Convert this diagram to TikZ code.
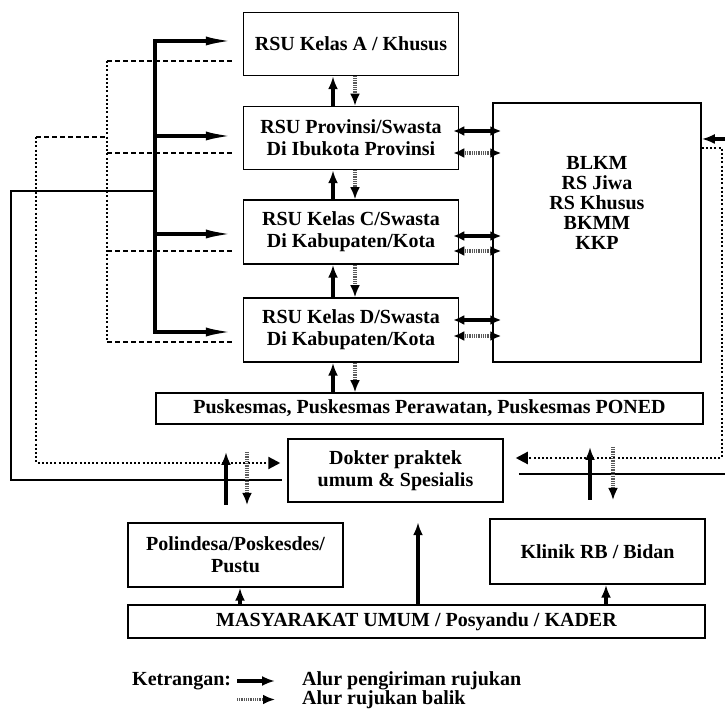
\documentclass[tikz,border=0pt]{standalone}
\usepackage{fontspec}
\setmainfont{Liberation Serif}
\usetikzlibrary{arrows.meta}

\tikzset{
  box/.style={draw, line width=1.5pt, inner sep=0pt, align=center,
    font=\bfseries\fontsize{20}{22}\selectfont},
  txt/.style={inner sep=0pt, align=center, font=\bfseries\fontsize{20}{20}\selectfont},
  ref/.style={line width=3.5pt, -{Latex[length=13pt,width=10pt]}},
  refL/.style={line width=3.5pt, -{Latex[length=28pt,width=9pt]}, shorten >=9pt},
  back/.style={line width=3.5pt, black!65, dash pattern=on 0.9pt off 0.9pt,
    -{Latex[length=12pt,width=10pt,color=black]}},
  dref/.style={line width=3.5pt, {Latex[length=11pt,width=10pt]}-{Latex[length=11pt,width=10pt]},
    shorten <=-6pt, shorten >=-9pt},
  dback/.style={line width=3.5pt, black!65, dash pattern=on 0.9pt off 0.9pt,
    {Latex[length=11pt,width=10pt,color=black]}-{Latex[length=11pt,width=10pt,color=black]},
    shorten <=-6pt, shorten >=-9pt},
  bus/.style={line width=3.5pt, line cap=rect},
  bdash/.style={line width=2pt, dash pattern=on 5pt off 3pt},
  bdot/.style={line width=2.2pt, dash pattern=on 2pt off 2.2pt},
  thinl/.style={line width=1.6pt},
}

\begin{document}
\begin{tikzpicture}[x=1pt,y=1pt]
  \useasboundingbox[fill=white] (0,0) rectangle (725,709);

  % rumah sakit
  \node[box, minimum width=215pt, minimum height=63pt] (rsuA) at (351,665) {RSU Kelas A / Khusus};
  \node[box, minimum width=215pt, minimum height=63pt] (rsuB) at (351,571) {RSU Provinsi/Swasta\\Di Ibukota Provinsi};
  \node[box, minimum width=215pt, minimum height=64pt] (rsuC) at (351,477) {RSU Kelas C/Swasta\\Di Kabupaten/Kota};
  \node[box, minimum width=215pt, minimum height=64pt] (rsuD) at (351,379) {RSU Kelas D/Swasta\\Di Kabupaten/Kota};
  \node[box, minimum width=208pt, minimum height=259pt] (blkm) at (597,476.5) {};
  \node[txt] (blkmtxt) at (597,506) {BLKM\\RS Jiwa\\RS Khusus\\BKMM\\KKP};

  % pelayanan dasar
  \node[box, minimum width=547pt, minimum height=31pt] (pusk) at (429.5,300.5) {Puskesmas, Puskesmas Perawatan, Puskesmas PONED};
  \node[box, minimum width=215pt, minimum height=63pt] (dok) at (395.5,238.5) {Dokter praktek\\umum \& Spesialis};
  \node[box, minimum width=215pt, minimum height=64pt] (pol) at (235.5,154) {Polindesa/Poskesdes/\\Pustu};
  \node[box, minimum width=215pt, minimum height=65pt] (kli) at (597.5,157.5) {Klinik RB / Bidan};
  \node[box, minimum width=577pt, minimum height=33pt] (mas) at (416.5,87.5) {MASYARAKAT UMUM / Posyandu / KADER};

  % antar rumah sakit
  \draw[ref]  ([xshift=-18pt]rsuB.north) -- ([xshift=-18pt]rsuA.south);
  \draw[back] ([xshift=4pt]rsuA.south) -- ([xshift=4pt]rsuB.north);
  \draw[ref]  ([xshift=-18pt]rsuC.north) -- ([xshift=-18pt]rsuB.south);
  \draw[back] ([xshift=4pt]rsuB.south) -- ([xshift=4pt]rsuC.north);
  \draw[ref]  ([xshift=-18pt]rsuD.north) -- ([xshift=-18pt]rsuC.south);
  \draw[back] ([xshift=4pt]rsuC.south) -- ([xshift=4pt]rsuD.north);
  \draw[ref]  ([xshift=-18pt]rsuD.south |- pusk.north) -- ([xshift=-18pt]rsuD.south);
  \draw[back] ([xshift=4pt]rsuD.south) -- ([xshift=4pt]rsuD.south |- pusk.north);

  % ke BLKM
  \draw[dref]  (rsuB.east |- 0,578) -- (blkm.west |- 0,578);
  \draw[dback] (rsuB.east |- 0,556) -- (blkm.west |- 0,556);
  \draw[dref]  (rsuC.east |- 0,473) -- (blkm.west |- 0,473);
  \draw[dback] (rsuC.east |- 0,458) -- (blkm.west |- 0,458);
  \draw[dref]  (rsuD.east |- 0,389) -- (blkm.west |- 0,389);
  \draw[dback] (rsuD.east |- 0,373) -- (blkm.west |- 0,373);

  % jalur kiri
  \coordinate (b1) at (155,668);
  \coordinate (b2) at (155,573);
  \coordinate (b3) at (155,475);
  \coordinate (b4) at (155,377);
  \draw[bus] (b1) -- (b4);
  \draw[refL] (b1) -- (b1 -| rsuA.west);
  \draw[refL] (b2) -- (b2 -| rsuB.west);
  \draw[refL] (b3) -- (b3 -| rsuC.west);
  \draw[refL] (b4) -- (b4 -| rsuD.west);
  \coordinate (t1) at (155,518);
  \draw[thinl] (t1) -- (11,518) -- (11,229) -- ([shift={(-5pt,-9.5pt)}]dok.west);

  \coordinate (d1) at (107,648);
  \coordinate (d2) at (107,556);
  \coordinate (d3) at (107,458);
  \coordinate (d4) at (107,367);
  \draw[bdot] (d1) -- (d4);
  \draw[bdash, shorten >=9pt] (d1) -- (d1 -| rsuA.west);
  \draw[bdash, shorten >=9pt] (d2) -- (d2 -| rsuB.west);
  \draw[bdash, shorten >=9pt] (d3) -- (d3 -| rsuC.west);
  \draw[bdash, shorten >=9pt] (d4) -- (d4 -| rsuD.west);
  \coordinate (o1) at (36,572);
  \draw[bdash] (o1) -- (o1 -| d1);
  \draw[bdot, -{Triangle[length=12pt,width=12pt]}, shorten >=7pt]
    (o1) -- (36,246) -- ([yshift=7.5pt]dok.west);

  % jalur kanan
  \coordinate (r1) at (725,235);
  \coordinate (r2) at (725,570);
  \draw[thinl] ([shift={(15pt,-3.5pt)}]dok.east) -- (r1);
  \draw[ref] (r2) -- (r2 -| blkm.east);
  \draw[bdot, -{Triangle[length=12pt,width=12pt]}, shorten >=12pt]
    (blkm.east |- 0,561) -- (722,561) -- (722,251) -- ([yshift=12.5pt]dok.east);

  % panah bawah
  \coordinate (u1) at (226,204);
  \coordinate (v1) at (247,257);
  \coordinate (u2) at (590,209);
  \coordinate (v2) at (613,262);
  \draw[ref]  (u1) -- ++(0,53);
  \draw[back] (v1) -- ++(0,-53);
  \draw[ref]  (u2) -- ++(0,53);
  \draw[back] (v2) -- ++(0,-53);
  \draw[ref] ([xshift=1.5pt]mas.north) -- ++(0,82);
  \draw[ref] ([xshift=4.5pt]pol.south |- mas.north) -- ([xshift=4.5pt]pol.south);
  \draw[ref] ([xshift=8.5pt]kli.south |- mas.north) -- ([xshift=8.5pt]kli.south);

  % keterangan
  \node[txt, anchor=west] (ket) at (132,28) {Ketrangan:};
  \node[txt, anchor=west] (leg1) at (302,28) {Alur pengiriman rujukan};
  \node[txt, anchor=west] (leg2) at (302,9.5) {Alur rujukan balik};
  \draw[ref]  ([xshift=-65pt]leg1.west) -- ([xshift=-27pt]leg1.west);
  \draw[back] ([xshift=-65pt]leg2.west) -- ([xshift=-27pt]leg2.west);
\end{tikzpicture}
\end{document}
